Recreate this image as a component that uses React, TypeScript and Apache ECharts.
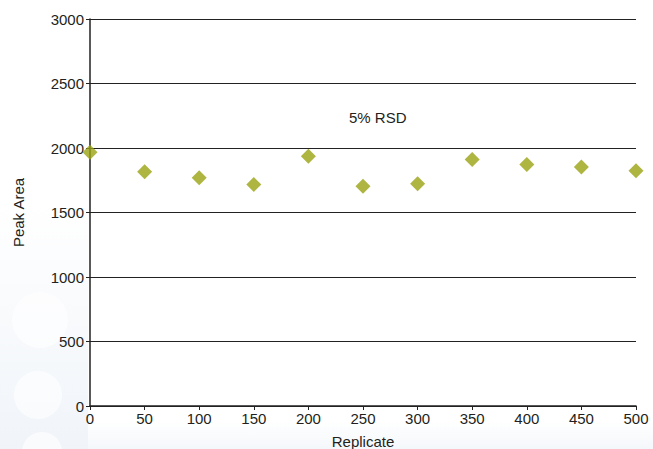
import React, { useEffect, useRef } from "react";
import * as echarts from "echarts";

const replicates = [0, 50, 100, 150, 200, 250, 300, 350, 400, 450, 500];
const peakAreas = [1968, 1816, 1769, 1717, 1937, 1704, 1723, 1911, 1873, 1852, 1824];
const annotation = "5% RSD";
const xName = "Replicate";
const yName = "Peak Area";

export default function App() {
  const ref = useRef<HTMLDivElement>(null);
  useEffect(() => {
    if (!ref.current) return;
    const chart = echarts.init(ref.current, undefined, { renderer: "svg" });
    const font = "'Liberation Sans', Arial, sans-serif";
    const textColor = "#231f20";
    const tint = "rgba(234,240,247,";
    chart.setOption({
      animation: false,
      backgroundColor: "#ffffff",
      textStyle: { fontFamily: font },
      graphic: [
        {
          type: "rect",
          z: -20,
          silent: true,
          shape: { x: 0, y: 200, width: 88, height: 249 },
          style: {
            fill: new echarts.graphic.LinearGradient(0, 0, 0, 1, [
              { offset: 0, color: tint + "0)" },
              { offset: 1, color: tint + "0.7)" },
            ]),
          },
        },
        {
          type: "rect",
          z: -20,
          silent: true,
          shape: { x: 88, y: 420, width: 565, height: 29 },
          style: {
            fill: new echarts.graphic.LinearGradient(0, 0, 0, 1, [
              { offset: 0, color: tint + "0)" },
              { offset: 1, color: tint + "0.5)" },
            ]),
          },
        },
        { type: "circle", z: -10, shape: { cx: 40, cy: 320, r: 28 }, style: { fill: "rgba(255,255,255,0.6)" }, silent: true },
        { type: "circle", z: -10, shape: { cx: 38, cy: 395, r: 24 }, style: { fill: "rgba(255,255,255,0.6)" }, silent: true },
        { type: "circle", z: -10, shape: { cx: 42, cy: 452, r: 20 }, style: { fill: "rgba(255,255,255,0.6)" }, silent: true },
        {
          type: "text",
          left: 349,
          top: 110,
          style: { text: annotation, fontSize: 15, fontFamily: font, fill: textColor },
        },
      ],
      grid: { left: 90, right: 17, top: 19, bottom: 43, containLabel: false, outerBoundsMode: "none" },
      xAxis: {
        type: "value",
        min: 0,
        max: 500,
        interval: 50,
        name: xName,
        nameLocation: "middle",
        nameGap: 28,
        nameTextStyle: { fontSize: 15, color: textColor, fontFamily: font },
        axisLine: { show: true, lineStyle: { color: "#222", width: 1.5 } },
        axisTick: { show: true, length: 4, lineStyle: { color: "#222" } },
        axisLabel: { fontSize: 15, color: textColor, margin: 5, fontFamily: font, formatter: (v: number) => String(v) },
        splitLine: { show: false },
      },
      yAxis: {
        type: "value",
        min: 0,
        max: 3000,
        interval: 500,
        name: yName,
        nameLocation: "middle",
        nameGap: 64,
        nameTextStyle: { fontSize: 15, color: textColor, fontFamily: font },
        axisLine: { show: true, lineStyle: { color: "#222", width: 1.5 } },
        axisTick: { show: true, length: 4, lineStyle: { color: "#222" } },
        axisLabel: { fontSize: 15, color: textColor, margin: 6, fontFamily: font, formatter: (v: number) => String(v) },
        splitLine: { show: true, lineStyle: { color: "#222", width: 1 } },
      },
      series: [
        {
          type: "scatter",
          data: replicates.map((x, i) => [x, peakAreas[i]]),
          symbol: "diamond",
          symbolSize: [15, 15],
          itemStyle: { color: "#9aa312" },
        },
      ],
    });
    return () => chart.dispose();
  }, []);
  return (
    <div
      ref={ref}
      style={{ position: "fixed", left: 0, top: 0, width: 653, height: 449 }}
    />
  );
}
